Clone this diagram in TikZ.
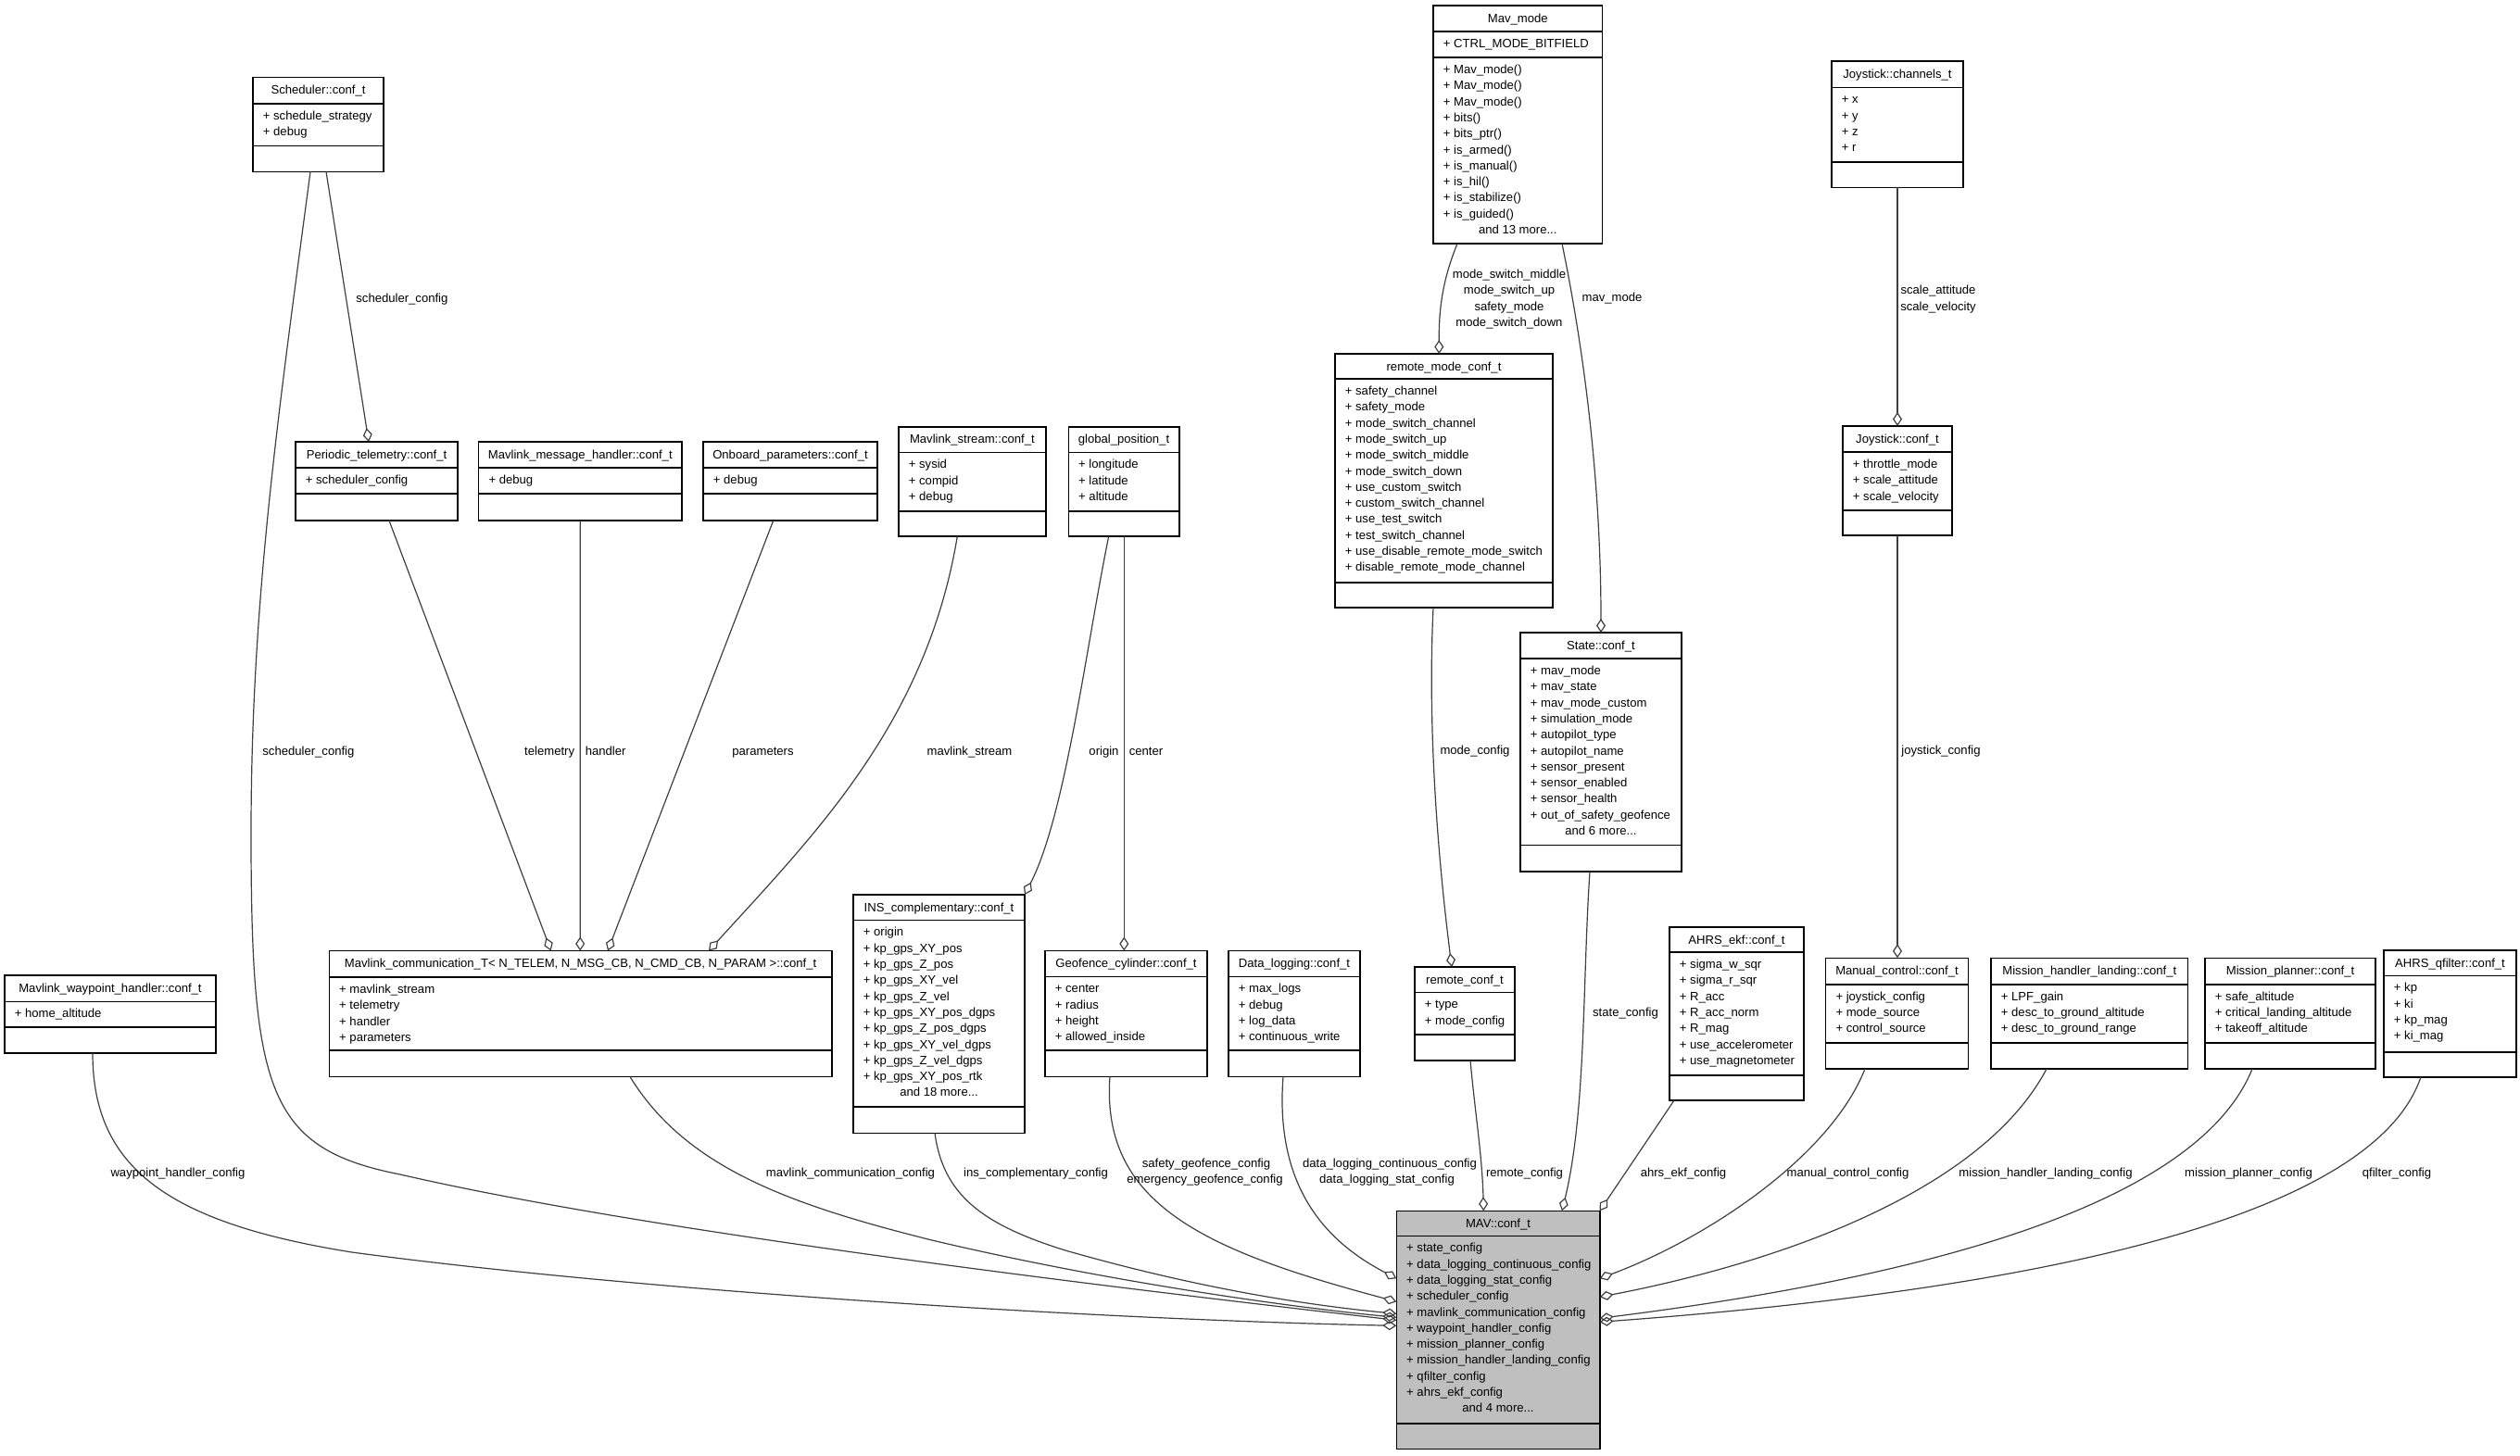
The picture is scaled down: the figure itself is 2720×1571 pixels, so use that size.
\documentclass[tikz,border=0pt]{standalone}
\usepackage{fontspec}
\setmainfont{Liberation Sans}
\usetikzlibrary{arrows.meta,calc}
\definecolor{edgecol}{HTML}{404040}
\definecolor{mavgray}{HTML}{BFBFBF}
\tikzset{
  txt/.style={inner sep=0pt, font=\fontsize{6.55pt}{8.6pt}\selectfont, text=black},
  boxst/.style={draw=black, line width=0.8pt, inner sep=0pt, outer sep=0pt, fill=white},
  sepst/.style={draw=black, line width=0.8pt},
  agg/.style={draw=edgecol, line width=0.6pt, -{Diamond[open, length=7.5pt, width=5pt, line width=0.6pt]}},
  lbl/.style={txt, anchor=base}
}
% #1 options, #2 name, #3 left, #4 top, #5 width, #6 sep1, #7 sep2, #8 bottom, #9 title
\newcommand{\umlbox}[9][]{%
  \node[boxst, #1, minimum width=#5*0.5pt, minimum height=(#8-#4)*0.5pt, anchor=north west] (#2) at (#3,#4) {};
  \draw[sepst] (#3,#6) -- ++(#5,0);
  \draw[sepst] (#3,#7) -- ++(#5,0);
  \node[txt, anchor=base] (#2-title) at ({#3+#5/2},{#4+18}) {#9};
}
% #1 prefix, #2 left, #3 sep, #4 list
\newcommand{\attrs}[4]{%
  \foreach \t [count=\i] in {#4} {
    \node[txt, anchor=base west] (#1-\i) at ({#2+10.5},{#3+17.5+(\i-1)*17.3}) {+ \t};
  }
}
% #1 name, #2 center x, #3 baseline y, #4 text
\newcommand{\moreline}[4]{\node[txt, anchor=base] (#1) at ({#2},{#3}) {#4};}

\begin{document}
\begin{tikzpicture}[x=0.5pt, y=-0.5pt]
\fill[white] (0,0) rectangle (2720,1571);
\useasboundingbox (0,0) rectangle (2720,1571);

% ---------------- boxes ----------------
\umlbox{sched}{273}{83.3}{141}{111.7}{157.3}{185.3}{Scheduler::conf\_t}
\attrs{sched}{273}{111.7}{schedule\_strategy,debug}

\umlbox{ptel}{319}{477}{175}{505}{533}{562}{Periodic\_telemetry::conf\_t}
\attrs{ptel}{319}{505}{scheduler\_config}

\umlbox{msgh}{516.6}{477}{219.4}{505}{533}{562}{Mavlink\_message\_handler::conf\_t}
\attrs{msgh}{516.6}{505}{debug}

\umlbox{onb}{759}{477}{188}{505}{533}{562}{Onboard\_parameters::conf\_t}
\attrs{onb}{759}{505}{debug}

\umlbox{stream}{970}{460.7}{158.7}{488.3}{551.7}{579}{Mavlink\_stream::conf\_t}
\attrs{stream}{970}{488.3}{sysid,compid,debug}

\umlbox{gpos}{1153.3}{460.7}{119.4}{488.3}{551.7}{579}{global\_position\_t}
\attrs{gpos}{1153.3}{488.3}{longitude,latitude,altitude}

\umlbox{mavmode}{1547}{6}{182.5}{33.7}{62}{263}{Mav\_mode}
\attrs{mavmodeA}{1547}{33.7}{CTRL\_MODE\_BITFIELD}
\attrs{mavmodeM}{1547}{62}{Mav\_mode(),Mav\_mode(),Mav\_mode(),bits(),bits\_ptr(),is\_armed(),is\_manual(),is\_hil(),is\_stabilize(),is\_guided()}
\moreline{mavmode-more}{1638.25}{62+17.5+10*17.3}{and 13 more...}

\umlbox{rmode}{1441}{382}{235}{409}{629}{656}{remote\_mode\_conf\_t}
\attrs{rmode}{1441}{409}{safety\_channel,safety\_mode,mode\_switch\_channel,mode\_switch\_up,mode\_switch\_middle,mode\_switch\_down,use\_custom\_switch,custom\_switch\_channel,use\_test\_switch,test\_switch\_channel,use\_disable\_remote\_mode\_switch,disable\_remote\_mode\_channel}

\umlbox{joy}{1977}{66}{142}{94.3}{175}{202.3}{Joystick::channels\_t}
\attrs{joy}{1977}{94.3}{x,y,z,r}

\umlbox{joyc}{1989}{460}{118}{488}{551}{578}{Joystick::conf\_t}
\attrs{joyc}{1989}{488}{throttle\_mode,scale\_attitude,scale\_velocity}

\umlbox{state}{1641}{683}{174}{711}{912.5}{941}{State::conf\_t}
\attrs{state}{1641}{711}{mav\_mode,mav\_state,mav\_mode\_custom,simulation\_mode,autopilot\_type,autopilot\_name,sensor\_present,sensor\_enabled,sensor\_health,out\_of\_safety\_geofence}
\moreline{state-more}{1728}{711+17.5+10*17.3}{and 6 more...}

\umlbox{rconf}{1527}{1044}{108}{1071.4}{1116.8}{1145}{remote\_conf\_t}
\attrs{rconf}{1527}{1071.4}{type,mode\_config}

\umlbox{ekf}{1802}{1001}{145}{1028}{1160.7}{1188}{AHRS\_ekf::conf\_t}
\attrs{ekf}{1802}{1028}{sigma\_w\_sqr,sigma\_r\_sqr,R\_acc,R\_acc\_norm,R\_mag,use\_accelerometer,use\_magnetometer}

\umlbox{wp}{5}{1053}{228}{1081.3}{1109}{1137}{Mavlink\_waypoint\_handler::conf\_t}
\attrs{wp}{5}{1081.3}{home\_altitude}

\umlbox{mcomm}{355.3}{1026.5}{542.7}{1055}{1134}{1162.5}{Mavlink\_communication\_T< N\_TELEM, N\_MSG\_CB, N\_CMD\_CB, N\_PARAM >::conf\_t}
\attrs{mcomm}{355.3}{1055}{mavlink\_stream,telemetry,handler,parameters}

\umlbox{ins}{921}{966}{185}{993.4}{1195.2}{1223.3}{INS\_complementary::conf\_t}
\attrs{ins}{921}{993.4}{origin,kp\_gps\_XY\_pos,kp\_gps\_Z\_pos,kp\_gps\_XY\_vel,kp\_gps\_Z\_vel,kp\_gps\_XY\_pos\_dgps,kp\_gps\_Z\_pos\_dgps,kp\_gps\_XY\_vel\_dgps,kp\_gps\_Z\_vel\_dgps,kp\_gps\_XY\_pos\_rtk}
\moreline{ins-more}{1013.5}{993.4+17.5+10*17.3}{and 18 more...}

\umlbox{geo}{1128}{1026.5}{175}{1054.3}{1134}{1162.3}{Geofence\_cylinder::conf\_t}
\attrs{geo}{1128}{1054.3}{center,radius,height,allowed\_inside}

\umlbox{dlog}{1326}{1026.5}{142}{1054.3}{1134}{1162.3}{Data\_logging::conf\_t}
\attrs{dlog}{1326}{1054.3}{max\_logs,debug,log\_data,continuous\_write}

\umlbox{manual}{1970.6}{1034.3}{153.8}{1062.7}{1126}{1154}{Manual\_control::conf\_t}
\attrs{manual}{1970.6}{1062.7}{joystick\_config,mode\_source,control\_source}

\umlbox{mhl}{2149}{1034.3}{212.6}{1062.7}{1126}{1154}{Mission\_handler\_landing::conf\_t}
\attrs{mhl}{2149}{1062.7}{LPF\_gain,desc\_to\_ground\_altitude,desc\_to\_ground\_range}

\umlbox{mp}{2380}{1034.3}{184}{1062.7}{1126}{1154}{Mission\_planner::conf\_t}
\attrs{mp}{2380}{1062.7}{safe\_altitude,critical\_landing\_altitude,takeoff\_altitude}

\umlbox{qf}{2573}{1026}{143}{1053.3}{1135.7}{1162.7}{AHRS\_qfilter::conf\_t}
\attrs{qf}{2573}{1053.3}{kp,ki,kp\_mag,ki\_mag}

\umlbox[fill=mavgray]{mav}{1507.3}{1307.3}{219.4}{1334.3}{1536.7}{1564.3}{MAV::conf\_t}
\attrs{mav}{1507.3}{1334.3}{state\_config,data\_logging\_continuous\_config,data\_logging\_stat\_config,scheduler\_config,mavlink\_communication\_config,waypoint\_handler\_config,mission\_planner\_config,mission\_handler\_landing\_config,qfilter\_config,ahrs\_ekf\_config}
\moreline{mav-more}{1617}{1334.3+17.5+10*17.3}{and 4 more...}

% ---------------- connectors ----------------
\draw[agg] ($(sched.south west)+(79,0)$) -- ($(ptel.north west)+(79,0)$);
\draw[agg] ($(sched.south west)+(62,0)$) .. controls (300,450) and (271,650) .. (271,900)
   .. controls (271,1180) and (290,1240) .. (432,1268)
   .. controls (700,1330) and (1200,1390) .. ($(mav.north west)+(0,118)$);
\draw[agg] ($(ptel.south west)+(101,0)$) -- ($(mcomm.north west)+(239.4,0)$);
\draw[agg] ($(msgh.south west)+(109.6,0)$) -- ($(mcomm.north west)+(270.9,0)$);
\draw[agg] ($(onb.south west)+(75.7,0)$) -- ($(mcomm.north west)+(300.7,0)$);
\draw[agg] ($(stream.south west)+(63.3,0)$) .. controls (1000,780) and (880,900) .. ($(mcomm.north west)+(409.7,0)$);
\draw[agg] ($(gpos.south west)+(43.4,0)$) .. controls (1172,700) and (1150,880) .. (ins.north east);
\draw[agg] ($(gpos.south west)+(60,0)$) -- ($(geo.north west)+(85.3,0)$);
\draw[agg] ($(mavmode.south west)+(26,0)$) .. controls (1558,300) and (1553,330) .. ($(rmode.north west)+(112.3,0)$);
\draw[agg] ($(mavmode.south west)+(139,0)$) .. controls (1710,380) and (1728,520) .. ($(state.north west)+(87,0)$);
\draw[agg] ($(joy.south west)+(71,0)$) -- ($(joyc.north west)+(59,0)$);
\draw[agg] ($(rmode.south west)+(106,0)$) .. controls (1540,800) and (1555,950) .. ($(rconf.north west)+(40,0)$);
\draw[agg] ($(joyc.south west)+(59,0)$) -- ($(manual.north west)+(77.4,0)$);

\draw[agg] ($(wp.south west)+(95,0)$) .. controls (100,1260) and (180,1320) .. (380,1352)
   .. controls (700,1395) and (1200,1425) .. ($(mav.north west)+(0,124)$);
\draw[agg] ($(mcomm.south west)+(324.7,0)$) .. controls (740,1260) and (850,1300) .. (1006,1339)
   .. controls (1200,1385) and (1400,1412) .. ($(mav.north west)+(0,115)$);
\draw[agg] ($(ins.south west)+(88,0)$) .. controls (1018,1290) and (1060,1322) .. (1150,1350)
   .. controls (1300,1393) and (1420,1410) .. ($(mav.north west)+(0,111)$);
\draw[agg] ($(geo.south west)+(70,0)$) .. controls (1188,1300) and (1300,1350) .. ($(mav.north west)+(0,98)$);
\draw[agg] ($(dlog.south west)+(59,0)$) .. controls (1375,1290) and (1440,1345) .. ($(mav.north west)+(0,73)$);
\draw[agg] ($(rconf.south west)+(60,0)$) .. controls (1592,1200) and (1600,1250) .. ($(mav.north west)+(94,0)$);
\draw[agg] ($(state.south west)+(75,0)$) .. controls (1708,1060) and (1712,1200) .. ($(mav.north west)+(178.7,0)$);
\draw[agg] ($(ekf.south west)+(5,0)$) -- (mav.north east);
\draw[agg] ($(manual.south west)+(42.4,0)$) .. controls (1975,1250) and (1840,1338) .. ($(mav.north east)+(0,73)$);
\draw[agg] ($(mhl.south west)+(60,0)$) .. controls (2140,1285) and (1925,1362) .. ($(mav.north east)+(0,93)$);
\draw[agg] ($(mp.south west)+(51,0)$) .. controls (2380,1280) and (2150,1370) .. ($(mav.north east)+(0,116)$);
\draw[agg] ($(qf.south west)+(40,0)$) .. controls (2570,1290) and (2300,1385) .. ($(mav.north east)+(0,120)$);

% ---------------- labels ----------------
\node[txt, anchor=base west] (L1) at (384,326.5) {scheduler\_config};
\node[txt, anchor=base west] (L2) at (283,815.5) {scheduler\_config};
\node[txt, anchor=base east] (L3) at (620.5,815.5) {telemetry};
\node[txt, anchor=base west] (L4) at (631.4,815.5) {handler};
\node[lbl] (L5) at (823.5,815.5) {parameters};
\node[lbl] (L6) at (1046.5,815.5) {mavlink\_stream};
\node[lbl] (L7) at (1191.5,815.5) {origin};
\node[lbl] (L8) at (1237,815.5) {center};
\node[lbl] (L9a) at (1629,300.5) {mode\_switch\_middle};
\node[lbl] (L9b) at (1629,317.8) {mode\_switch\_up};
\node[lbl] (L9c) at (1629,335.1) {safety\_mode};
\node[lbl] (L9d) at (1629,352.4) {mode\_switch\_down};
\node[lbl] (L10) at (1740,325.5) {mav\_mode};
\node[lbl] (L11a) at (2092,317.8) {scale\_attitude};
\node[lbl] (L11b) at (2092,335.1) {scale\_velocity};
\node[lbl] (L12) at (1592,814.5) {mode\_config};
\node[lbl] (L13) at (2095,814.5) {joystick\_config};
\node[lbl] (L14) at (1754.5,1097.5) {state\_config};
\node[lbl] (L15) at (192,1270) {waypoint\_handler\_config};
\node[lbl] (L16) at (918,1270) {mavlink\_communication\_config};
\node[lbl] (L17) at (1118,1270) {ins\_complementary\_config};
\node[lbl] (L18a) at (1302,1260.5) {safety\_geofence\_config};
\node[lbl] (L18b) at (1300.5,1277.8) {emergency\_geofence\_config};
\node[lbl] (L19a) at (1500,1260.5) {data\_logging\_continuous\_config};
\node[lbl] (L19b) at (1497,1277.8) {data\_logging\_stat\_config};
\node[lbl] (L20) at (1645.5,1270) {remote\_config};
\node[lbl] (L21) at (1817,1270) {ahrs\_ekf\_config};
\node[lbl] (L22) at (1994.5,1270) {manual\_control\_config};
\node[lbl] (L23) at (2208,1270) {mission\_handler\_landing\_config};
\node[lbl] (L24) at (2427,1270) {mission\_planner\_config};
\node[lbl] (L25) at (2587,1270) {qfilter\_config};
\end{tikzpicture}
\end{document}
